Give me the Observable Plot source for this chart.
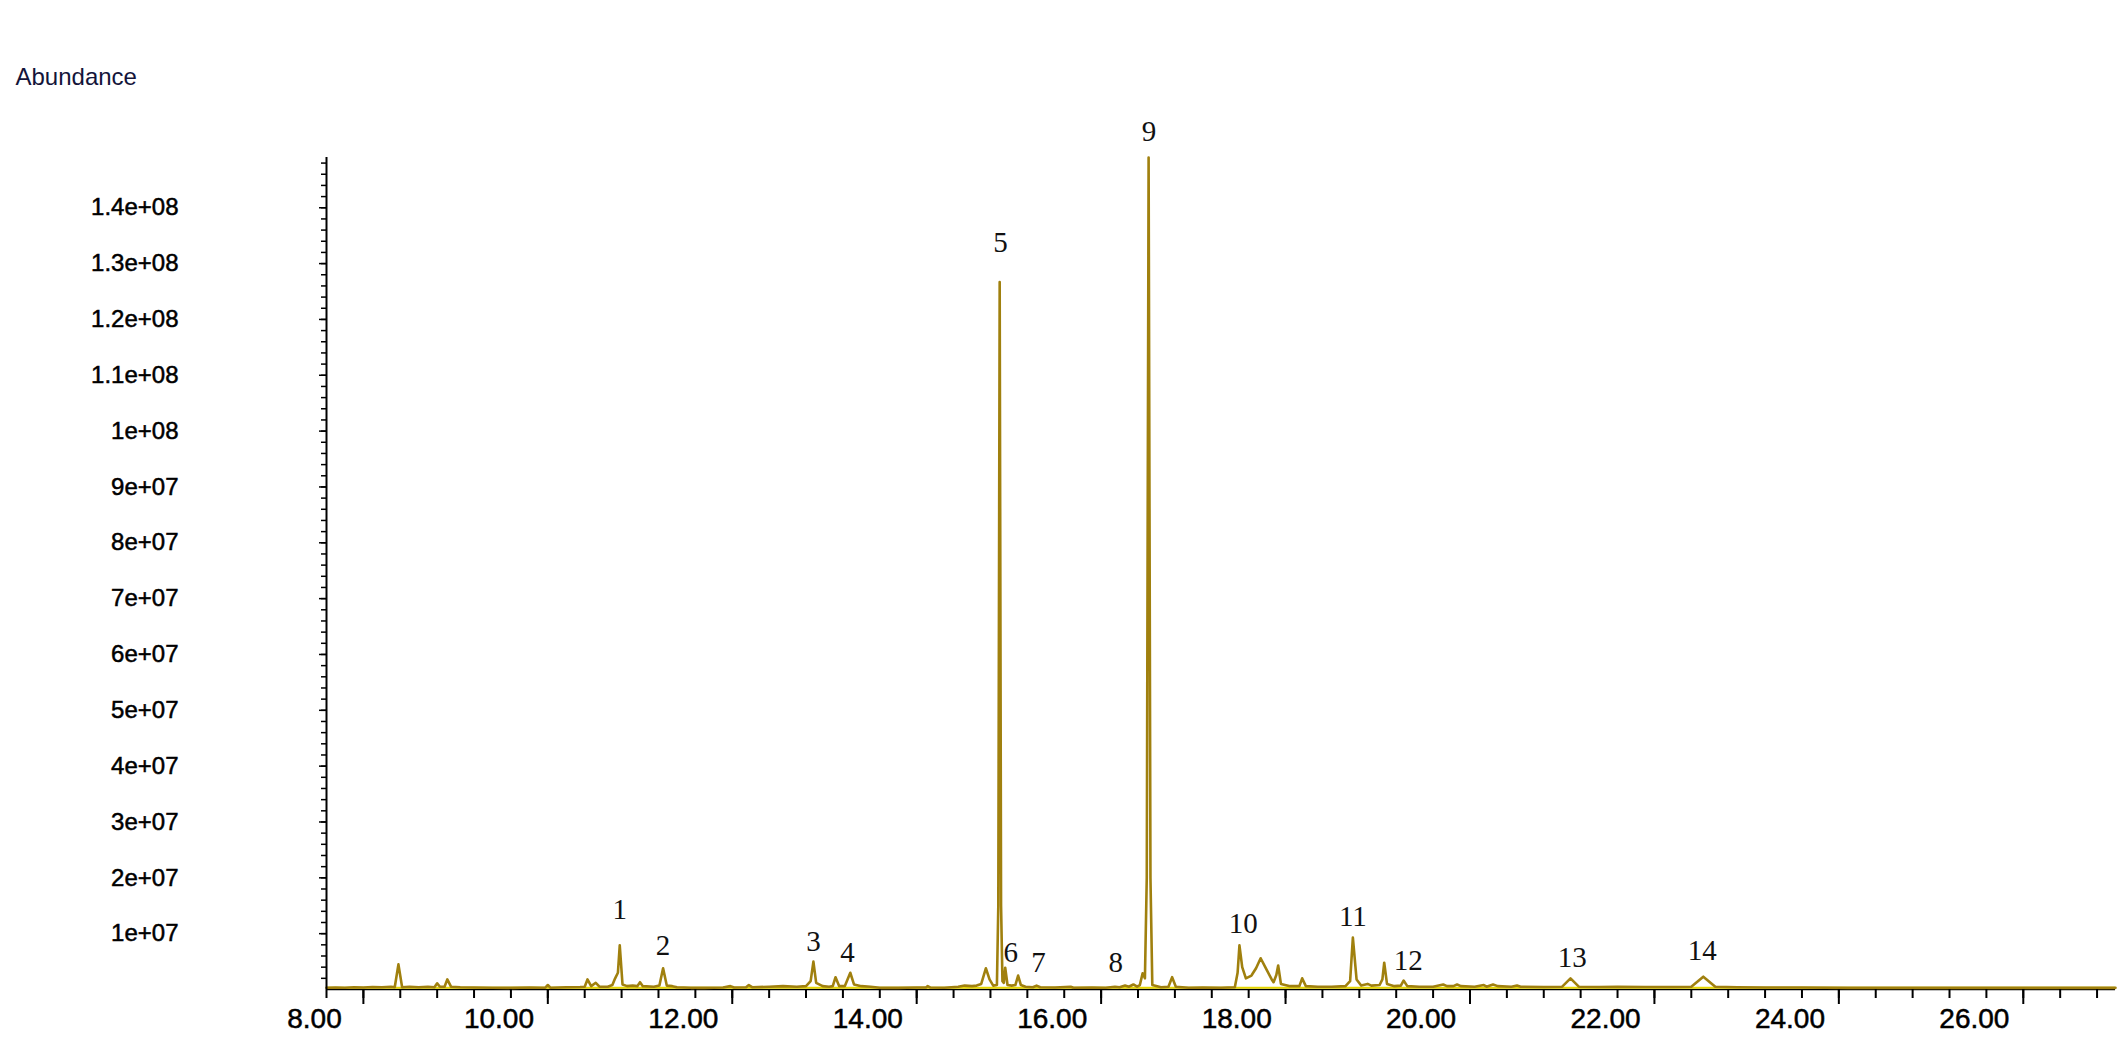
<!DOCTYPE html>
<html><head><meta charset="utf-8">
<script src="https://cdn.jsdelivr.net/npm/d3@7"></script>
<script src="https://cdn.jsdelivr.net/npm/@observablehq/plot@0.6"></script>
<style>html,body{margin:0;padding:0;background:#fff;overflow:hidden}#chart svg{display:block}</style>
</head><body><div id="chart"></div>
<script>
// Chromatogram trace: retention time (min) and abundance
const retentionTime = [
 8.00, 8.10, 8.20, 8.30, 8.40, 8.50, 8.60, 8.70, 8.74, 8.78, 8.82, 8.90, 9.00, 9.10, 9.17, 9.20, 9.23, 9.28, 9.31, 9.35,
 9.45, 9.60, 9.80, 10.00, 10.20, 10.37, 10.40, 10.43, 10.60, 10.75, 10.80, 10.83, 10.87, 10.92, 10.96, 11.05, 11.10, 11.13, 11.16, 11.18,
 11.21, 11.26, 11.32, 11.37, 11.40, 11.43, 11.55, 11.61, 11.65, 11.69, 11.75, 11.80, 11.95, 12.10, 12.30, 12.38, 12.42, 12.55, 12.58, 12.62,
 12.80, 12.95, 13.10, 13.20, 13.25, 13.28, 13.31, 13.38, 13.45, 13.49, 13.52, 13.56, 13.62, 13.68, 13.72, 13.80, 13.90, 14.00, 14.20, 14.40,
 14.50, 14.52, 14.55, 14.70, 14.85, 14.92, 15.00, 15.05, 15.10, 15.15, 15.19, 15.23, 15.27, 15.285, 15.300, 15.315, 15.33, 15.345, 15.36, 15.385,
 15.43, 15.47, 15.50, 15.53, 15.58, 15.66, 15.70, 15.74, 15.90, 16.07, 16.10, 16.30, 16.45, 16.55, 16.60, 16.66, 16.70, 16.75, 16.79, 16.82,
 16.85, 16.875, 16.895, 16.915, 16.935, 16.955, 17.05, 17.13, 17.17, 17.21, 17.35, 17.50, 17.70, 17.85, 17.88, 17.90, 17.93, 17.97, 18.03, 18.08,
 18.13, 18.18, 18.25, 18.27, 18.30, 18.32, 18.35, 18.45, 18.55, 18.58, 18.62, 18.75, 18.90, 19.05, 19.10, 19.13, 19.17, 19.22, 19.29, 19.33,
 19.42, 19.45, 19.47, 19.50, 19.58, 19.65, 19.68, 19.72, 19.85, 20.00, 20.11, 20.15, 20.22, 20.26, 20.30, 20.45, 20.55, 20.58, 20.65, 20.70,
 20.85, 20.91, 20.95, 21.20, 21.40, 21.49, 21.58, 21.80, 22.00, 22.30, 22.60, 22.80, 22.93, 23.06, 23.30, 23.60, 24.00, 24.50, 25.00, 25.50,
 26.00, 26.50, 27.00, 27.40
];
const abundance = [
 0.3e6, 0.35e6, 0.3e6, 0.4e6, 0.35e6, 0.45e6, 0.4e6, 0.5e6, 0.4e6, 4.5e6, 0.4e6, 0.5e6, 0.4e6, 0.5e6, 0.4e6, 1.1e6, 0.5e6, 0.5e6, 1.8e6, 0.5e6,
 0.4e6, 0.35e6, 0.3e6, 0.3e6, 0.35e6, 0.3e6, 0.8e6, 0.3e6, 0.4e6, 0.45e6, 0.5e6, 1.8e6, 0.6e6, 1.2e6, 0.5e6, 0.5e6, 0.8e6, 2.0e6, 3.0e6, 7.9e6,
 0.9e6, 0.6e6, 0.7e6, 0.6e6, 1.3e6, 0.6e6, 0.5e6, 0.7e6, 3.8e6, 0.7e6, 0.6e6, 0.4e6, 0.3e6, 0.3e6, 0.35e6, 0.6e6, 0.35e6, 0.4e6, 0.8e6, 0.4e6,
 0.5e6, 0.6e6, 0.5e6, 0.6e6, 1.5e6, 5.0e6, 1.2e6, 0.6e6, 0.5e6, 0.6e6, 2.2e6, 0.6e6, 0.6e6, 3.0e6, 0.9e6, 0.6e6, 0.5e6, 0.3e6, 0.3e6, 0.35e6,
 0.35e6, 0.6e6, 0.35e6, 0.3e6, 0.5e6, 0.7e6, 0.6e6, 0.7e6, 1.0e6, 3.8e6, 1.8e6, 0.7e6, 0.8e6, 15e6, 126.7e6, 15e6, 1.5e6, 1.2e6, 3.9e6, 0.8e6,
 0.7e6, 0.8e6, 2.5e6, 0.8e6, 0.5e6, 0.4e6, 0.7e6, 0.4e6, 0.35e6, 0.5e6, 0.3e6, 0.35e6, 0.3e6, 0.5e6, 0.4e6, 0.7e6, 0.5e6, 0.9e6, 0.5e6, 0.8e6,
 2.9e6, 2.0e6, 20e6, 149e6, 20e6, 0.8e6, 0.4e6, 0.5e6, 2.2e6, 0.5e6, 0.3e6, 0.35e6, 0.3e6, 0.4e6, 3.0e6, 7.9e6, 4.0e6, 2.0e6, 2.5e6, 3.8e6,
 5.6e6, 4.0e6, 1.8e6, 1.3e6, 2.6e6, 4.3e6, 1.0e6, 0.6e6, 0.6e6, 2.0e6, 0.6e6, 0.5e6, 0.5e6, 0.6e6, 1.5e6, 9.3e6, 1.8e6, 0.7e6, 1.0e6, 0.7e6,
 0.8e6, 1.8e6, 4.8e6, 1.0e6, 0.6e6, 0.7e6, 1.6e6, 0.6e6, 0.5e6, 0.5e6, 0.9e6, 0.6e6, 0.6e6, 0.9e6, 0.6e6, 0.5e6, 0.8e6, 0.5e6, 0.9e6, 0.6e6,
 0.5e6, 0.7e6, 0.5e6, 0.45e6, 0.5e6, 2.0e6, 0.5e6, 0.45e6, 0.5e6, 0.45e6, 0.45e6, 0.5e6, 2.3e6, 0.5e6, 0.4e6, 0.35e6, 0.35e6, 0.3e6, 0.3e6, 0.3e6,
 0.3e6, 0.3e6, 0.3e6, 0.3e6
];

// Peak number annotations
const peakLabels = ["1","2","3","4","5","6","7","8","9","10","11","12","13","14"];
const peakLabelTime = [11.18, 11.65, 13.28, 13.65, 15.31, 15.42, 15.72, 16.56, 16.92, 17.94, 19.13, 19.73, 21.51, 22.92];
const peakLabelAbundance = [14.2e6, 7.9e6, 8.6e6, 6.5e6, 133.7e6, 6.6e6, 4.8e6, 4.8e6, 153.6e6, 11.8e6, 13.1e6, 5.2e6, 5.7e6, 7.0e6];

// Axis ticks
const xLabelValues = [8, 10, 12, 14, 16, 18, 20, 22, 24, 26];
const xTickLabels = ["8.00","10.00","12.00","14.00","16.00","18.00","20.00","22.00","24.00","26.00"];
const yTickValues = [1e7, 2e7, 3e7, 4e7, 5e7, 6e7, 7e7, 8e7, 9e7, 1e8, 1.1e8, 1.2e8, 1.3e8, 1.4e8];
const yTickLabels = ["1e+07","2e+07","3e+07","4e+07","5e+07","6e+07","7e+07","8e+07","9e+07","1e+08","1.1e+08","1.2e+08","1.3e+08","1.4e+08"];

const trace = retentionTime.map((t, i) => ({t, a: abundance[i]}));
const labels = peakLabels.map((l, i) => ({l, t: peakLabelTime[i], a: peakLabelAbundance[i]}));
const xMinor = d3.range(0, 49).map(k => +(8 + 0.4 * k).toFixed(2));
const xMajor = d3.range(0, 10).map(k => 8.4 + 2 * k);
const yMinor = d3.range(1, 75).map(k => k * 2e6);

const chart = Plot.plot({
  width: 2122,
  height: 1040,
  marginLeft: 326,
  marginRight: 7,
  marginTop: 157,
  marginBottom: 51,
  x: {domain: [8, 27.4]},
  y: {domain: [0, 1.49e8]},
  style: {fontFamily: "'Liberation Sans', Arial, sans-serif", background: "#fff", color: "#000"},
  marks: [
    Plot.ruleY([0], {stroke: "#000", strokeWidth: 1.5}),
    Plot.ruleY([0.3e6], {stroke: "#e6d600", strokeWidth: 2}),
    Plot.line(trace, {x: "t", y: "a", stroke: "#a0800e", strokeWidth: 2.6}),
    Plot.ruleX([8], {y1: 0, y2: 1.49e8, stroke: "#000", strokeWidth: 2}),
    Plot.axisY(yMinor, {anchor: "left", tickSize: 5, tickFormat: () => "", label: null, strokeWidth: 1.5}),
    Plot.axisY(yTickValues, {anchor: "left", tickSize: 7, tickPadding: 141, strokeWidth: 1.5,
      tickFormat: d => yTickLabels[yTickValues.indexOf(d)], fontSize: 24, label: null}),
    Plot.axisX(xMinor, {anchor: "bottom", tickSize: 9, tickFormat: () => "", label: null, strokeWidth: 2}),
    Plot.axisX(xMajor, {anchor: "bottom", tickSize: 15, tickFormat: () => "", label: null, strokeWidth: 2}),
    Plot.axisX(xLabelValues, {anchor: "bottom", tickSize: 0, tickPadding: 19, dx: -12,
      tickFormat: d => xTickLabels[xLabelValues.indexOf(d)], fontSize: 28,
      fontFamily: "'Liberation Sans Narrow', 'Arial Narrow', 'Liberation Sans', sans-serif", label: null}),
    Plot.text(labels, {x: "t", y: "a", text: "l", fontSize: 29, fill: "#111",
      fontFamily: "'Liberation Serif', 'Times New Roman', serif"}),
    Plot.text(["Abundance"], {frameAnchor: "top-left", dx: -311, dy: -80, textAnchor: "start",
      lineAnchor: "middle", fontSize: 24, fill: "#14143a"})
  ]
});
// slightly heavier axis lettering, as in the scanned original
d3.select(chart).selectAll("g[aria-label='y-axis tick label'] text, g[aria-label='x-axis tick label'] text")
  .attr("stroke", "#000").attr("stroke-width", 0.5);
document.getElementById("chart").appendChild(chart);
</script>
</body></html>
